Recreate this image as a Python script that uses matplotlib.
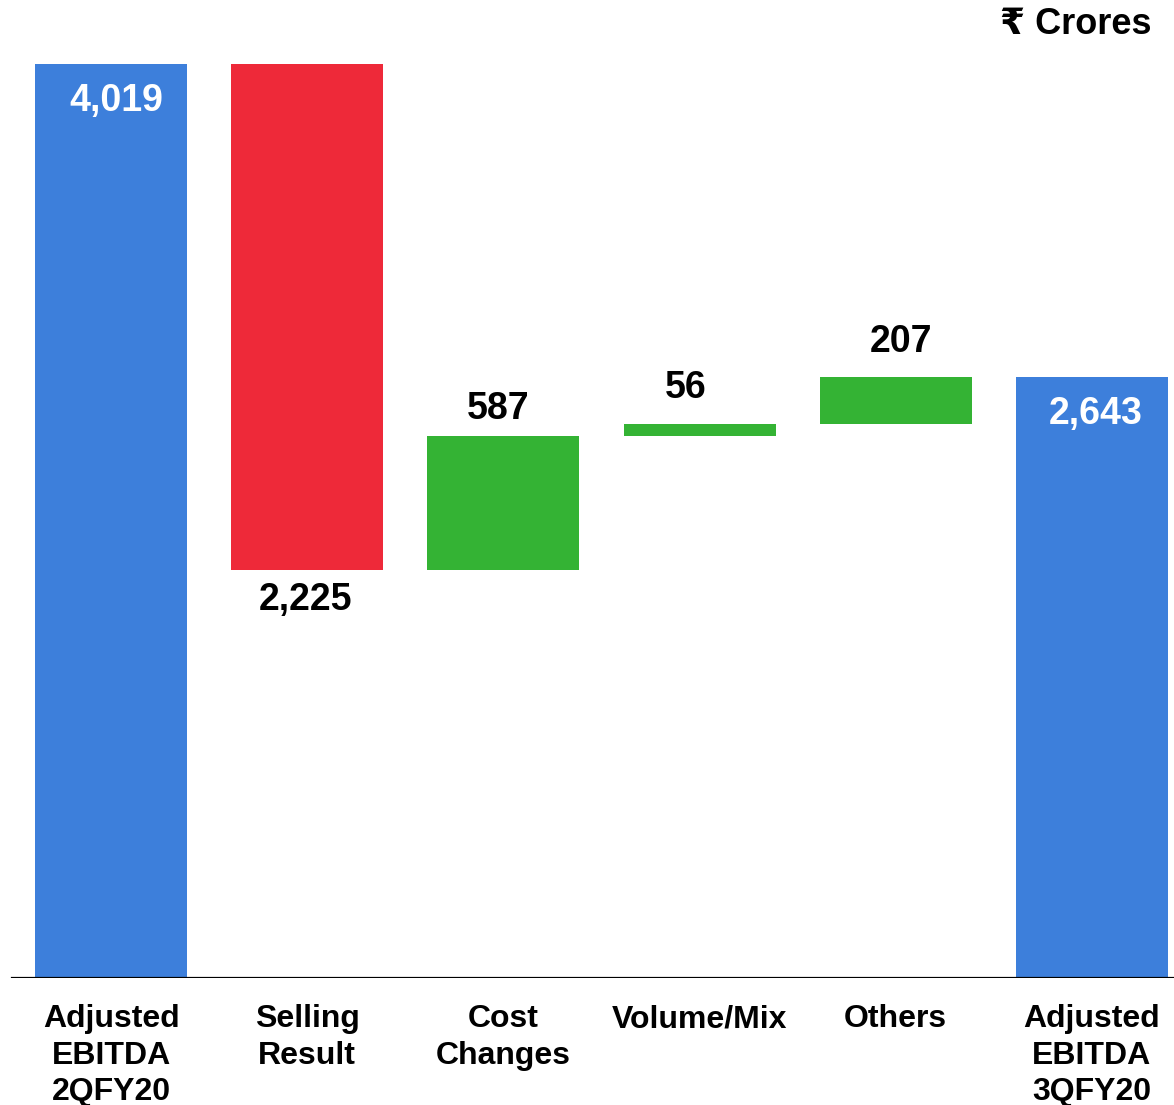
import numpy as np
import matplotlib.pyplot as plt

# -------------------------------------------------
# Data
# -------------------------------------------------
categories = [
    "Adjusted\nEBITDA\n2QFY20",
    "Selling\nResult",
    "Cost\nChanges",
    "Volume/Mix",
    "Others",
    "Adjusted\nEBITDA\n3QFY20",
]
changes = [4019, -2225, 587, 56, 207, 2643]
kinds = ["total", "delta", "delta", "delta", "delta", "total"]
value_labels = ["4,019", "2,225", "587", "56", "207", "2,643"]

blue = "#3d7fdb"
red = "#ee2939"
green = "#34b334"

# small label nudges (pixels), as placed in the original slide
nudge_x = [5, -2, -5, -14, 5, 4]
nudge_y = [-37, -30, 27, 36, 35, -37]

# -------------------------------------------------
# Waterfall geometry
# -------------------------------------------------
bottoms, heights, colors = [], [], []
running = 0
for val, kind in zip(changes, kinds):
    if kind == "total":
        bottoms.append(0)
        heights.append(val)
        colors.append(blue)
        running = val
    else:
        if val >= 0:
            bottoms.append(running)
            colors.append(green)
        else:
            bottoms.append(running + val)
            colors.append(red)
        heights.append(abs(val))
        running += val

x = np.arange(len(categories))

fig = plt.figure(figsize=(11.74, 11.05), dpi=100)
ax = fig.add_axes([0, 127 / 1105, 1, 978 / 1105])

ax.bar(x, heights, bottom=bottoms, width=0.775, color=colors, zorder=2)

ax.set_xlim(-0.566, 5.418)
ax.set_ylim(0, 4300)

font = ["Liberation Sans", "DejaVu Sans"]

# value labels
for i, (b, h, lab) in enumerate(zip(bottoms, heights, value_labels)):
    if kinds[i] == "total":
        anchor, col = b + h, "white"
    elif changes[i] < 0:
        anchor, col = b, "black"
    else:
        anchor, col = b + h, "black"
    ax.annotate(lab, (x[i], anchor), xytext=(nudge_x[i], nudge_y[i]),
                textcoords="offset pixels", ha="center", va="center",
                color=col, fontsize=27, fontweight="bold", family=font)

# baseline
ax.axhline(0, xmin=12 / 1174, xmax=1, color="black", lw=1.6, zorder=3)

ax.set_xticks(x)
ax.set_xticklabels(categories, fontsize=23, fontweight="bold", family=font)
for lab in ax.get_xticklabels():
    lab.set_linespacing(1.28)
ax.tick_params(axis="x", length=0, pad=19)
ax.set_yticks([])
for s in ax.spines.values():
    s.set_visible(False)

fig.text(1152 / 1174, 1 - 24 / 1105, "\u20b9 Crores", ha="right", va="center",
         fontsize=26, fontweight="bold", family=font)

plt.savefig("out.png", dpi=100)
plt.close(fig)
